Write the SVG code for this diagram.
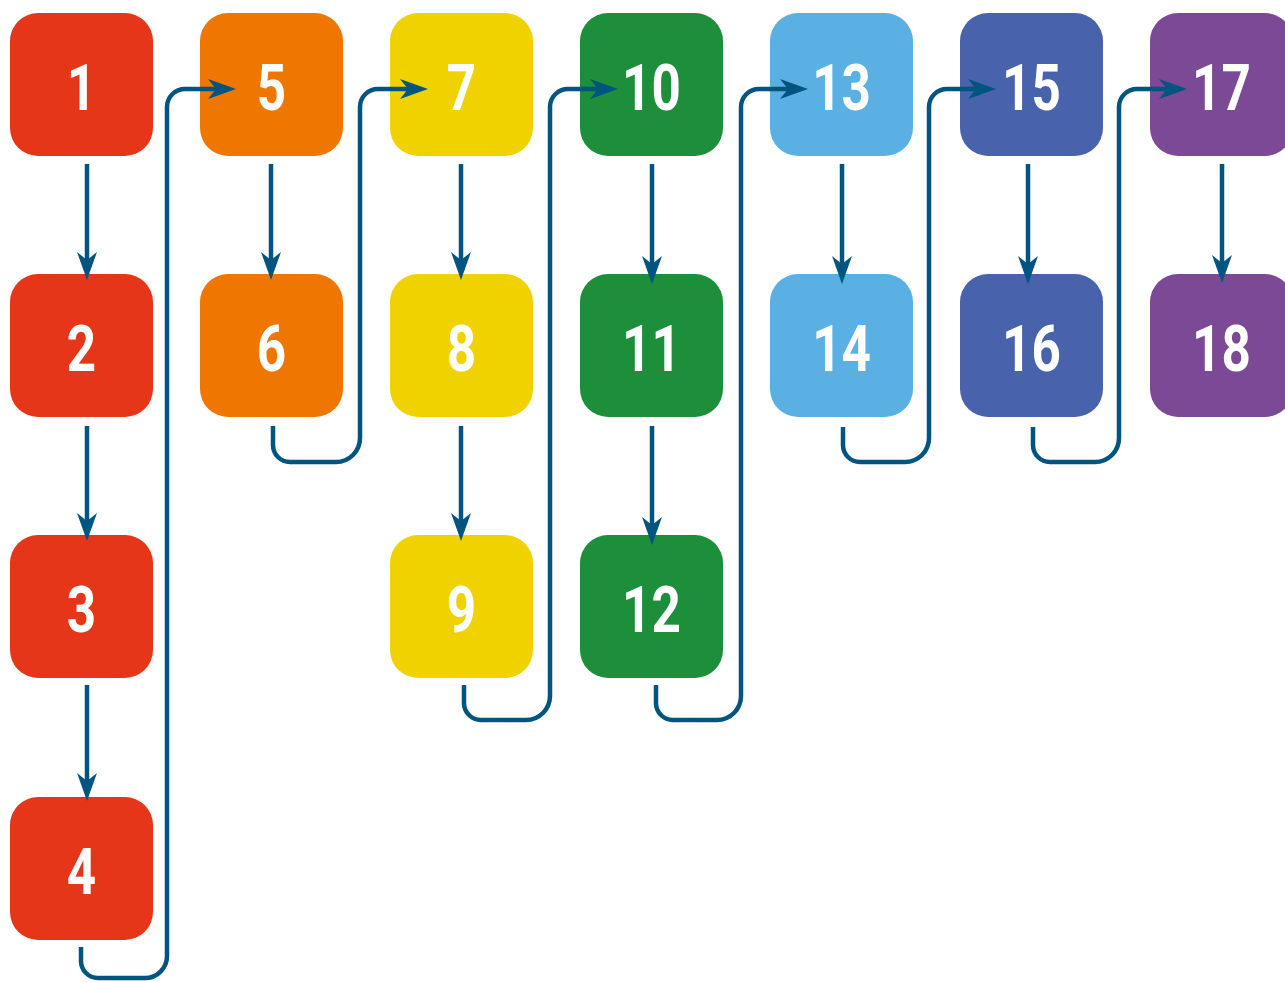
<svg xmlns="http://www.w3.org/2000/svg" width="1285" height="982" viewBox="0 0 1285 982">
<style>
.n{stroke:none}
.red{fill:#e5361a}.org{fill:#ee7601}.yel{fill:#f0d200}.grn{fill:#1d8e3a}.lb{fill:#5aafe3}.db{fill:#4862ab}.pur{fill:#7b4996}
.t{font-family:Roboto,"Liberation Sans",Arial,sans-serif;font-weight:700;font-size:64px;fill:#fff;text-anchor:middle;transform-box:fill-box;transform-origin:center;transform:scaleX(0.8)}
.c{fill:none;stroke:#005580;stroke-width:4.5;marker-end:url(#ah)}
</style>
<defs>
<marker id="ah" markerUnits="userSpaceOnUse" markerWidth="40" markerHeight="30" viewBox="-10 -15 40 30" refX="0" refY="0" orient="auto">
<path d="M20,0 L-8,-10 L0,0 L-8,10 Z" fill="#005580"/>
</marker>
</defs>
<g id="n1"><rect class="n red" x="10" y="13" width="143" height="143" rx="28"/><text class="t" x="81.5" y="110">1</text></g>
<g id="n2"><rect class="n red" x="10" y="274" width="143" height="143" rx="28"/><text class="t" x="81.5" y="371">2</text></g>
<g id="n3"><rect class="n red" x="10" y="535" width="143" height="143" rx="28"/><text class="t" x="81.5" y="632">3</text></g>
<g id="n4"><rect class="n red" x="10" y="797" width="143" height="143" rx="28"/><text class="t" x="81.5" y="894">4</text></g>
<g id="n5"><rect class="n org" x="200" y="13" width="143" height="143" rx="28"/><text class="t" x="271.5" y="110">5</text></g>
<g id="n6"><rect class="n org" x="200" y="274" width="143" height="143" rx="28"/><text class="t" x="271.5" y="371">6</text></g>
<g id="n7"><rect class="n yel" x="390" y="13" width="143" height="143" rx="28"/><text class="t" x="461.5" y="110">7</text></g>
<g id="n8"><rect class="n yel" x="390" y="274" width="143" height="143" rx="28"/><text class="t" x="461.5" y="371">8</text></g>
<g id="n9"><rect class="n yel" x="390" y="535" width="143" height="143" rx="28"/><text class="t" x="461.5" y="632">9</text></g>
<g id="n10"><rect class="n grn" x="580" y="13" width="143" height="143" rx="28"/><text class="t" x="651.5" y="110">10</text></g>
<g id="n11"><rect class="n grn" x="580" y="274" width="143" height="143" rx="28"/><text class="t" x="651.5" y="371">11</text></g>
<g id="n12"><rect class="n grn" x="580" y="535" width="143" height="143" rx="28"/><text class="t" x="651.5" y="632">12</text></g>
<g id="n13"><rect class="n lb" x="770" y="13" width="143" height="143" rx="28"/><text class="t" x="841.5" y="110">13</text></g>
<g id="n14"><rect class="n lb" x="770" y="274" width="143" height="143" rx="28"/><text class="t" x="841.5" y="371">14</text></g>
<g id="n15"><rect class="n db" x="960" y="13" width="143" height="143" rx="28"/><text class="t" x="1031.5" y="110">15</text></g>
<g id="n16"><rect class="n db" x="960" y="274" width="143" height="143" rx="28"/><text class="t" x="1031.5" y="371">16</text></g>
<g id="n17"><rect class="n pur" x="1150" y="13" width="143" height="143" rx="28"/><text class="t" x="1221.5" y="110">17</text></g>
<g id="n18"><rect class="n pur" x="1150" y="274" width="143" height="143" rx="28"/><text class="t" x="1221.5" y="371">18</text></g>
<g id="connectors">
<path class="c" d="M87,164 V260"/>
<path class="c" d="M87,426 V521"/>
<path class="c" d="M87,685 V781"/>
<path class="c" d="M271,164 V260"/>
<path class="c" d="M461,164 V260"/>
<path class="c" d="M461,426 V521"/>
<path class="c" d="M652,164 V264"/>
<path class="c" d="M652,426 V525"/>
<path class="c" d="M842,164 V264"/>
<path class="c" d="M1028,164 V264"/>
<path class="c" d="M1222,164 V263"/>
<path class="c" d="M81,947 V961 A17,17 0 0 0 98,978 H145 A22,22 0 0 0 167,956 V107 A18,18 0 0 1 185,89 H216"/>
<path class="c" d="M273,426 V445 A17,17 0 0 0 290,462 H336 A24,24 0 0 0 360,438 V107 A18,18 0 0 1 378,89 H408"/>
<path class="c" d="M464,685 V703 A17,17 0 0 0 481,720 H526 A24,24 0 0 0 550,696 V107 A18,18 0 0 1 568,89 H598"/>
<path class="c" d="M656,685 V703 A17,17 0 0 0 673,720 H717 A24,24 0 0 0 741,696 V107 A18,18 0 0 1 759,89 H788"/>
<path class="c" d="M843,427 V445 A17,17 0 0 0 860,462 H905 A24,24 0 0 0 929,438 V107 A18,18 0 0 1 947,89 H976"/>
<path class="c" d="M1033,427 V445 A17,17 0 0 0 1050,462 H1095 A24,24 0 0 0 1119,438 V107 A18,18 0 0 1 1137,89 H1167"/>
</g>
</svg>
